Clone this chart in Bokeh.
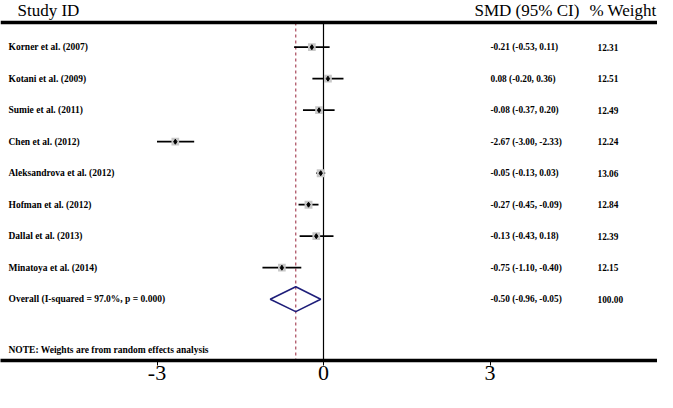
import math
from bokeh.plotting import figure
from bokeh.models import Range1d, LinearAxis, FixedTicker, Span, ColumnDataSource
from bokeh.core.properties import value
from bokeh.embed import file_html
from bokeh.resources import INLINE

# ---------------- data ----------------
studies = ["Korner et al. (2007)", "Kotani et al. (2009)", "Sumie et al. (2011)",
           "Chen et al. (2012)", "Aleksandrova et al. (2012)", "Hofman et al. (2012)",
           "Dallal et al. (2013)", "Minatoya et al. (2014)"]
smd = [-0.21, 0.08, -0.08, -2.67, -0.05, -0.27, -0.13, -0.75]
ci_low = [-0.53, -0.20, -0.37, -3.00, -0.13, -0.45, -0.43, -1.10]
ci_high = [0.11, 0.36, 0.20, -2.33, 0.03, -0.09, 0.18, -0.40]
weights = [12.31, 12.51, 12.49, 12.24, 13.06, 12.84, 12.39, 12.15]

overall_label = "Overall  (I-squared = 97.0%, p = 0.000)"
overall_smd = -0.50
overall_low = -0.96
overall_high = -0.05
overall_weight = 100.00

note = "NOTE: Weights are from random effects analysis"
x_ticks = [-3, 0, 3]
x_tick_labels = ["-3", "0", "3"]

# ---------------- layout helpers ----------------
W, H = 657, 392
AXIS_H = 32
FRAME_H = H - AXIS_H
PXU = 55.5            # pixels per SMD unit
ZERO_PX = 323.0       # x pixel of SMD = 0
ROW_PX = 31.5         # pixels per row
ROW0_PX = 46.7        # y pixel of first row


def xp(px):
    return (px - ZERO_PX) / PXU


def yp(py):
    return (py - ROW0_PX) / ROW_PX


FONT = value("Liberation Serif")

p = figure(width=W, height=H, output_backend="svg", toolbar_location=None,
           x_axis_type=None, y_axis_type=None,
           x_range=Range1d(xp(0), xp(W)),
           y_range=Range1d(yp(FRAME_H), yp(0)),
           min_border=0, min_border_left=0, min_border_right=0,
           min_border_top=0, min_border_bottom=AXIS_H)
p.outline_line_color = None
p.xgrid.visible = False
p.ygrid.visible = False
p.background_fill_color = "white"

rows = list(range(len(studies)))
overall_row = len(studies)

src = ColumnDataSource(dict(
    y=rows, study=studies, smd=smd, lo=ci_low, hi=ci_high, w=weights,
    size=[math.sqrt(w) * 2.2 for w in weights],
    ci_txt=[f"{s:.2f} ({l:.2f}, {h:.2f})" for s, l, h in zip(smd, ci_low, ci_high)],
    w_txt=[f"{w:.2f}" for w in weights],
))

top_line_y = yp(22)
bottom_y = yp(FRAME_H)

# top rule
p.add_layout(Span(location=top_line_y, dimension="width", line_color="black", line_width=3.5))

# zero line and overall dashed line
p.segment(x0=[0], y0=[top_line_y], x1=[0], y1=[bottom_y], line_color="black", line_width=1.2)
p.segment(x0=[overall_smd], y0=[top_line_y], x1=[overall_smd], y1=[bottom_y],
          line_color="#a8475a", line_width=1.2, line_dash="3 3")

# CIs, weight boxes, points
p.segment(x0="lo", y0="y", x1="hi", y1="y", source=src, line_color="black", line_width=1.8)
p.scatter(x="smd", y="y", size="size", marker="square", source=src,
          fill_color="#c8c8c8", line_color=None)
p.scatter(x="smd", y="y", size=5, marker="diamond", source=src,
          fill_color="black", line_color="black")

# overall diamond
dh = 12.4 / ROW_PX
p.patch(x=[overall_low, overall_smd, overall_high, overall_smd, overall_low],
        y=[overall_row, overall_row - dh, overall_row, overall_row + dh, overall_row],
        fill_color=None, line_color="#1f1f7a", line_width=1.6)

# left labels
LBL = dict(text_font=FONT, text_font_style="bold", text_font_size="9.5px",
           text_baseline="middle", text_align="left", text_color="black")
p.text(x=xp(8), y="y", text="study", source=src, **LBL)
p.text(x=[xp(8)], y=[overall_row], text=[overall_label], **LBL)
p.text(x=[xp(8)], y=[yp(349.5)], text=[note], **LBL)

# right columns
VAL = dict(text_font=FONT, text_font_style="bold", text_font_size="9.3px",
           text_baseline="middle", text_align="left", text_color="black")
p.text(x=xp(490), y="y", text="ci_txt", source=src, **VAL)
p.text(x=xp(597), y="y", text="w_txt", source=src, **VAL)
p.text(x=[xp(490)], y=[overall_row],
       text=[f"{overall_smd:.2f} ({overall_low:.2f}, {overall_high:.2f})"], **VAL)
p.text(x=[xp(597)], y=[overall_row], text=[f"{overall_weight:.2f}"], **VAL)

# headers
HDR = dict(text_font=FONT, text_font_size="17px", text_baseline="top",
           text_align="left", text_color="black")
hdr_y = yp(0.5)
p.text(x=[xp(17)], y=[hdr_y], text=["Study ID"], **HDR)
p.text(x=[xp(474)], y=[hdr_y], text=["SMD (95% CI)"], **HDR)
p.text(x=[xp(589)], y=[hdr_y], text=["% Weight"], **HDR)

# bottom axis
ax = LinearAxis(ticker=FixedTicker(ticks=x_ticks))
ax.major_label_overrides = {t: lab for t, lab in zip(x_ticks, x_tick_labels)}
ax.axis_line_width = 3.5
ax.axis_line_color = "black"
ax.major_tick_out = 5
ax.major_tick_in = 0
ax.minor_tick_out = 0
ax.minor_tick_in = 0
ax.major_tick_line_width = 1
ax.major_label_standoff = 0
ax.major_label_text_font = "Liberation Serif"
ax.major_label_text_font_size = "22px"
ax.major_label_text_color = "black"
p.add_layout(ax, "below")

open("out.html", "w").write(file_html(p, INLINE))
